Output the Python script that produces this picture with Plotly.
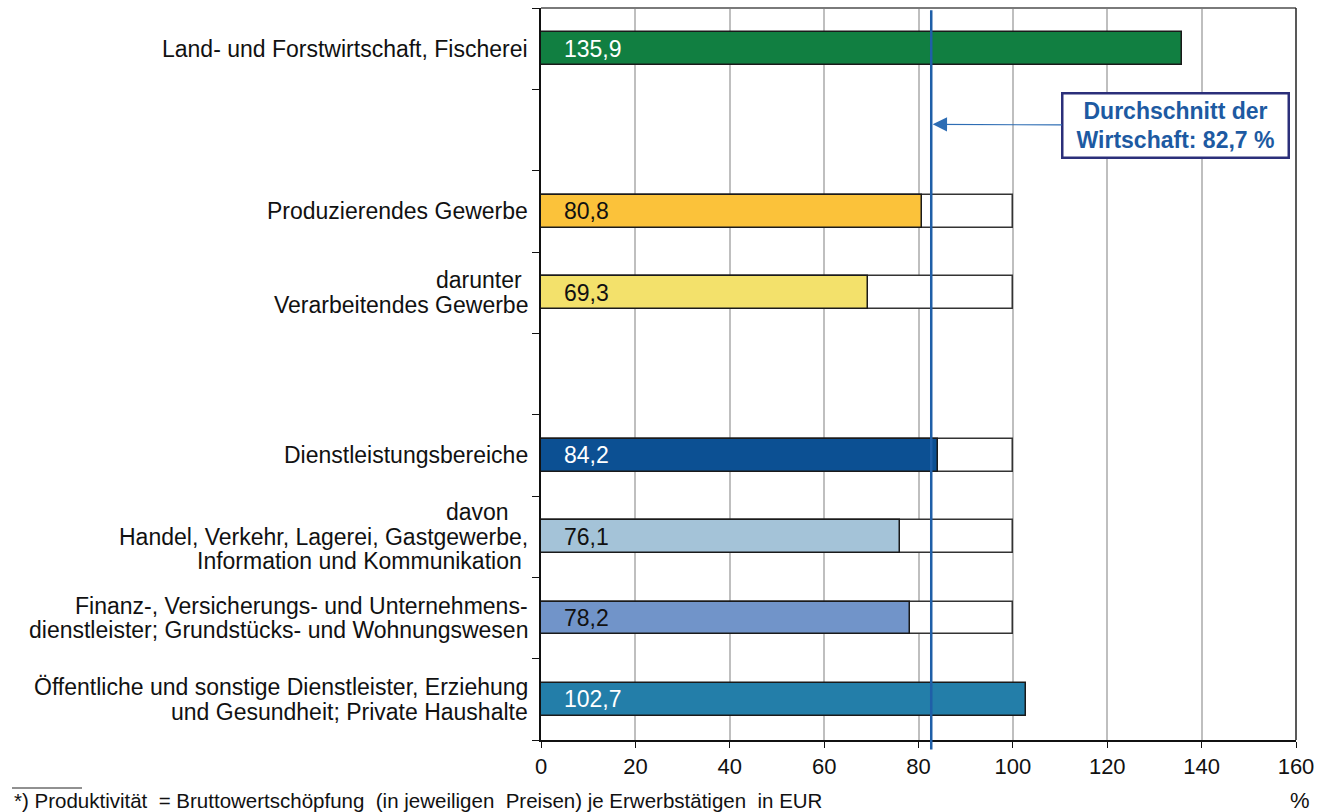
import plotly.graph_objects as go

# ---------------- data ----------------
categories = [
    "Land- und Forstwirtschaft, Fischerei",
    "",
    "Produzierendes Gewerbe",
    "darunter\u00a0<br>Verarbeitendes Gewerbe",
    "",
    "Dienstleistungsbereiche",
    "davon\u00a0\u00a0\u00a0<br>Handel, Verkehr, Lagerei, Gastgewerbe,<br>Information und Kommunikation\u00a0",
    "Finanz-, Versicherungs- und Unternehmens-<br>dienstleister; Grundstücks- und Wohnungswesen",
    "Öffentliche und sonstige Dienstleister, Erziehung<br>und Gesundheit; Private Haushalte",
]
values = [135.9, None, 80.8, 69.3, None, 84.2, 76.1, 78.2, 102.7]
bar_colors = ["#117F41", None, "#FBC23A", "#F3E16B", None, "#0C5093", "#A4C3D8", "#7194C9", "#237EA9"]
label_colors = ["white", None, "#111111", "#111111", None, "white", "#111111", "#111111", "white"]
reference_value = 100
average = 82.7
x_ticks = [0, 20, 40, 60, 80, 100, 120, 140, 160]
footnote = ("*) Produktivität\u00a0 = Bruttowertschöpfung\u00a0 (in jeweiligen\u00a0 Preisen) "
            "je Erwerbstätigen\u00a0 in EUR")
avg_text = "Durchschnitt der<br>Wirtschaft: 82,7 %"

FONT = "Liberation Sans, Arial, sans-serif"
slots = list(range(len(categories)))

fig = go.Figure()

# white reference bars (to 100) for categories below 100
ref_vals = [reference_value if (v is not None and v < reference_value) else None for v in values]
fig.add_trace(go.Bar(
    y=slots, x=ref_vals, orientation="h", width=0.4,
    marker=dict(color="white", line=dict(color="#333333", width=1.5)),
    hoverinfo="skip", showlegend=False,
))
# value bars
fig.add_trace(go.Bar(
    y=slots, x=values, orientation="h", width=0.4,
    marker=dict(color=[c if c else "white" for c in bar_colors],
                line=dict(color="#1a1a1a", width=1.5)),
    showlegend=False,
))

annotations = []
# category labels, line by line
LINE = 24.5
for i, lab in enumerate(categories):
    if not lab:
        continue
    lines = lab.split("<br>")
    n = len(lines)
    for k, ln in enumerate(lines):
        annotations.append(dict(
            x=0, xref="paper", y=i, yref="y", xanchor="right", yanchor="middle",
            xshift=-11, yshift=-(k - (n - 1) / 2) * LINE,
            text=ln, showarrow=False, font=dict(family=FONT, size=23, color="#111111"),
        ))

# value labels
for i, v in enumerate(values):
    if v is None:
        continue
    annotations.append(dict(
        x=0, xref="x", y=i, yref="y", xanchor="left", yanchor="middle", xshift=21,
        text=f"{v:.1f}".replace(".", ","), showarrow=False,
        font=dict(family=FONT, size=23, color=label_colors[i]),
    ))

# average callout with arrow
annotations.append(dict(
    x=average + 0.3, y=0.93, xref="x", yref="y",
    ax=134.4, ay=0.945, axref="x", ayref="y",
    text="<b>" + avg_text + "</b>", showarrow=True,
    arrowhead=2, arrowsize=2.4, arrowwidth=1.2, arrowcolor="#2E6DB4",
    font=dict(family=FONT, size=23, color="#1D5AA2"),
    bgcolor="white", bordercolor="#2B2F7A", borderwidth=2.5, borderpad=1,
    width=222, height=60, align="center",
))

# footnote and unit
annotations.append(dict(
    x=(12 - 541) / 755, y=(740 - 800) / 732, xref="paper", yref="paper",
    xanchor="left", yanchor="middle", text=footnote, showarrow=False,
    font=dict(family=FONT, size=20.5, color="#111111"),
))
annotations.append(dict(
    x=(1300 - 541) / 755, y=(740 - 800) / 732, xref="paper", yref="paper",
    xanchor="center", yanchor="middle", text="%", showarrow=False,
    font=dict(family=FONT, size=22, color="#111111"),
))

shapes = [
    # average line
    dict(type="line", xref="x", yref="paper", x0=average, x1=average, y0=-0.013, y1=0.997,
         line=dict(color="#1F5FA8", width=2.5), layer="above"),
    # top frame
    dict(type="line", xref="paper", yref="paper", x0=0, x1=1, y0=1, y1=1,
         line=dict(color="#7a7a7a", width=2), layer="above"),
    # right frame
    dict(type="line", xref="paper", yref="paper", x0=1, x1=1, y0=0, y1=1,
         line=dict(color="#222222", width=1.5), layer="above"),
    # footnote rule
    dict(type="line", xref="paper", yref="paper", x0=(12 - 541) / 755, x1=(82 - 541) / 755,
         y0=(740 - 788) / 732, y1=(740 - 788) / 732, line=dict(color="#222222", width=1)),
]

fig.update_layout(
    width=1331, height=812,
    margin=dict(l=541, r=35, t=8, b=72),
    paper_bgcolor="white", plot_bgcolor="white",
    barmode="overlay", bargap=0,
    font=dict(family=FONT, size=22, color="#111111"),
    annotations=annotations, shapes=shapes,
    xaxis=dict(
        range=[0, 160], tickvals=x_ticks, ticktext=[str(t) for t in x_ticks],
        showgrid=True, gridcolor="#BFBFBF", gridwidth=1.5, zeroline=False,
        showline=True, linecolor="#111111", linewidth=1.5,
        ticks="outside", ticklen=6, tickcolor="#111111", tickwidth=1.2,
        tickfont=dict(family=FONT, size=22, color="#111111"),
    ),
    yaxis=dict(
        range=[8.5, -0.5], tickvals=[i - 0.5 for i in range(len(categories) + 1)],
        showticklabels=False, showgrid=False, zeroline=False,
        showline=True, linecolor="#111111", linewidth=1.5,
        ticks="outside", ticklen=7, tickcolor="#111111", tickwidth=1.2,
    ),
)

fig.write_html(
    "out.html",
    config={"displayModeBar": False},
    post_script="document.body.style.margin='0';document.body.style.overflow='hidden';",
)
